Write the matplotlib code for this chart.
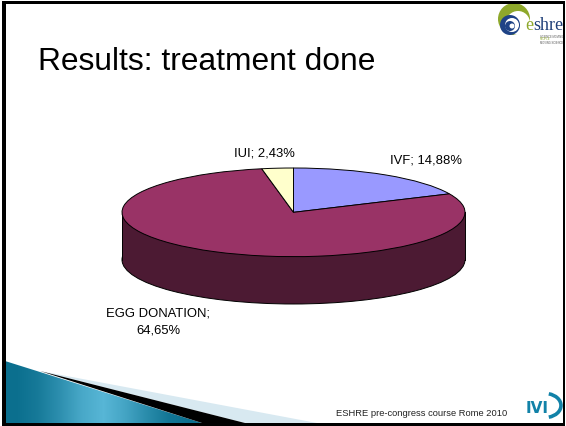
"""Slide with a fake 3D pie: treatment done."""
import numpy as np
import matplotlib
matplotlib.use("Agg")
import matplotlib.pyplot as plt
from matplotlib.patches import Rectangle, Ellipse, Polygon, Circle, Arc

W, H = 566, 427

labels = ["IVF", "EGG DONATION", "IUI"]
values = [14.88, 64.65, 2.43]
value_text = ["14,88%", "64,65%", "2,43%"]
colors = ["#9999ff", "#993366", "#ffffcc"]
wall_color = "#4c1a33"

plt.rcParams["font.family"] = ["Liberation Sans", "DejaVu Sans"]

fig = plt.figure(figsize=(W / 100, H / 100), dpi=100)

# background layer in slide pixels, y pointing down
bg = fig.add_axes([0, 0, 1, 1])
bg.axis("off")

# swoosh at the bottom left
bg.add_patch(Polygon([(40, 372), (317, 424), (245, 424)], fc="#d8e9f1", ec="none", zorder=1))
bg.add_patch(Polygon([(40, 372), (245, 424), (202, 424)], fc="black", ec="none", zorder=3))
grad = np.array([[0.0, 0.15, 0.45, 0.8, 1.0, 0.75, 0.4, 0.1, 0.0]])
cm = matplotlib.colors.LinearSegmentedColormap.from_list("sw", ["#0b6f8e", "#57b6d6"])
im = bg.imshow(grad, extent=(5, 202, 424, 362), aspect="auto", cmap=cm,
               interpolation="bilinear", zorder=2)
clip = Polygon([(5, 362), (40, 373), (202, 424), (5, 424)], transform=bg.transData, fc="none", ec="none")
bg.add_patch(clip)
im.set_clip_path(clip)
bg.set_xlim(0, W)
bg.set_ylim(H, 0)

# slide border, a thin white margin stays outside it
for r in [(2, 2, 563, 3), (2, 424, 563, 3), (2, 2, 4, 425), (563, 2, 2, 425)]:
    bg.add_patch(Rectangle(r[:2], r[2], r[3], fc="black", ec="none", zorder=9))

bg.text(38, 70, "Results: treatment done", fontsize=22.9, color="black", zorder=6)
bg.text(336, 416, "ESHRE pre-congress course Rome 2010", fontsize=6.75, color="#222222", zorder=6)

# eshre logo
bg.add_patch(Circle((514, 20), 16, fc="#8ea82b", ec="none", zorder=6))
bg.add_patch(Circle((518, 24), 12, fc="white", ec="none", zorder=6))
rings = [(510, 26, 10, "#1f4386"), (512, 26, 7, "white"),
         (510, 27, 5, "#1f4386"), (512, 27, 2.5, "white")]
for cx, cy, rad, col in rings:
    bg.add_patch(Circle((cx, cy), rad, fc=col, ec="none", zorder=7))
bg.text(525, 29.5, "e", fontsize=13, family="Liberation Serif", color="#8ea82b", zorder=7)
bg.text(533, 29.5, "shre", fontsize=13, family="Liberation Serif", color="#1f3f78", zorder=7)
for yy, txt, col in [(37.5, "SCIENCE MOVING", "#555555"), (40.5, "PEOPLE", "#8ea82b"), (43.5, "MOVING SCIENCE", "#555555")]:
    bg.text(540, yy, txt, fontsize=1.9, color=col, zorder=7)

# IVI logo
bg.text(526, 413, "IVI", fontsize=11, fontweight="bold", family="DejaVu Sans", color="#1282a8", zorder=7)
bg.add_patch(Arc((545, 406.5), 32, 24, theta1=-72, theta2=72, ec="#1282a8", lw=2.6, zorder=7))

# pie, squashed, with the wall below it
depth = 47 / 44
ax = fig.add_axes([122 / W, 1 - 305 / H, 343 / W, 136 / H])
ax.pie(values, colors=colors, startangle=90, counterclock=False,
       wedgeprops={"edgecolor": "black", "linewidth": 0.7, "zorder": 5})
ax.set_aspect("auto")
ax.set_xlim(-1, 1)
ax.set_ylim(-1 - depth, 1)
for p in ax.patches:
    p.set_clip_on(False)
ax.add_patch(Ellipse((0, -depth), 2, 2, fc=wall_color, ec="black", lw=0.7, zorder=1, clip_on=False))
ax.add_patch(Rectangle((-1, -depth), 2, depth, fc=wall_color, ec="none", zorder=2))
ax.plot([-1, -1], [0, -depth], color="black", lw=0.7, zorder=3, clip_on=False)
ax.plot([1, 1], [0, -depth], color="black", lw=0.7, zorder=3, clip_on=False)

# data labels
fs = 9.4
bg.text(426.5, 161, f"{labels[0]}; {value_text[0]}", fontsize=fs, ha="center", va="center", zorder=6)
bg.text(264, 154, f"{labels[2]}; {value_text[2]}", fontsize=fs, ha="center", va="center", zorder=6)
bg.text(158, 322, f"{labels[1]};\n{value_text[1]}", fontsize=fs, ha="center", va="center",
        linespacing=1.5, zorder=6)

plt.savefig("out.png", dpi=100)
plt.close()
